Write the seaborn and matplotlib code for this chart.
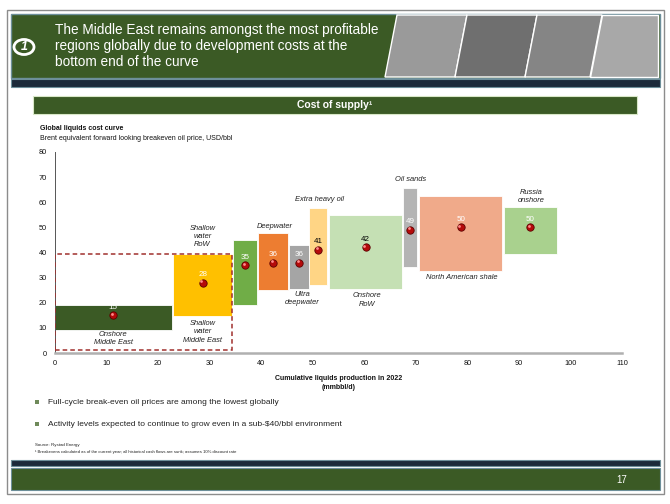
import numpy as np
import pandas as pd
import matplotlib
matplotlib.use("Agg")
import matplotlib.pyplot as plt
import matplotlib.patches as mpatches
import seaborn as sns

# cost curve boxes
segments = ["Onshore Middle East", "Shallow water Middle East", "Shallow water RoW", "Deepwater",
            "Ultra deepwater", "Extra heavy oil", "Onshore RoW", "Oil sands",
            "North American shale", "Russia onshore"]
x_start = [0, 22.9, 34.6, 39.4, 45.4, 49.3, 53.2, 67.5, 70.6, 87.1]
x_end = [22.65, 34.4, 39.2, 45.2, 49.2, 52.7, 67.3, 70.3, 86.8, 97.3]
low = [9.3, 14.6, 19.3, 24.9, 25.6, 27.2, 25.4, 34.2, 32.8, 39.6]
high = [19.0, 39.5, 44.8, 47.7, 43.0, 57.7, 55.0, 65.7, 62.5, 58.0]
breakeven = [15, 28, 35, 36, 36, 41, 42, 49, 50, 50]
colors = ["#3b5a25", "#ffc000", "#70ad47", "#ed7d31", "#a5a5a5", "#ffd585",
          "#c5e0b4", "#b4b4b4", "#f0aa8a", "#a9d18e"]
value_colors = ["white", "white", "white", "white", "white", "black", "black", "white", "white", "white"]

# italic segment labels (x, y in data units)
seg_labels = ["Onshore\nMiddle East", "Shallow\nwater\nMiddle East", "Shallow\nwater\nRoW", "Deepwater",
              "Ultra\ndeepwater", "Extra heavy oil", "Onshore\nRoW", "Oil sands",
              "North American shale", "Russia\nonshore"]
seg_label_x = [11.3, 28.7, 28.6, 42.7, 47.9, 51.4, 60.6, 69.0, 78.9, 92.3]
seg_label_y = [5.9, 8.4, 46.3, 50.3, 21.6, 61.0, 21.1, 68.9, 30.0, 62.3]

x_ticks = list(range(0, 111, 10))
y_ticks = list(range(0, 81, 10))

df = pd.DataFrame({"segment": segments, "x0": x_start, "x1": x_end, "low": low,
                   "high": high, "value": breakeven})
df["mid"] = (df["x0"] + df["x1"]) / 2

sns.set_theme(style="white")
plt.rcParams["font.family"] = ["Liberation Sans", "DejaVu Sans"]

W, H = 670, 504
fig = plt.figure(figsize=(W / 100, H / 100), dpi=100)
fig.patch.set_facecolor("white")


def px_rect(x0, y0, x1, y1, **kw):
    # rectangle given in picture pixels (top-left origin)
    fig.patches.append(mpatches.Rectangle((x0 / W, 1 - y1 / H), (x1 - x0) / W, (y1 - y0) / H,
                                          transform=fig.transFigure, figure=fig, **kw))


def px_text(x, y, s, **kw):
    fig.text(x / W, 1 - y / H, s, **kw)


# page frame
px_rect(7, 10, 664, 494, facecolor="none", edgecolor="#8c8c8c", lw=1.0)

# header banner
px_rect(11, 14, 660, 78, facecolor="#3b5a25", edgecolor="#6d8f9a", lw=1.0)
shades = ["#9a9a9a", "#6f6f6f", "#858585", "#a8a8a8"]
edges = [385, 455, 525, 590, 658]
for i, c in enumerate(shades):
    xa, xb = edges[i], edges[i + 1]
    poly = [((xa + 12) / W, 1 - 15 / H), ((xb + 12) / W if i < 3 else xb / W, 1 - 15 / H),
            (xb / W, 1 - 77 / H), (xa / W, 1 - 77 / H)]
    fig.patches.append(mpatches.Polygon(poly, closed=True, transform=fig.transFigure, figure=fig,
                                        facecolor=c, edgecolor="white", lw=1.0))
px_rect(11, 79, 660, 87, facecolor="#1c2a3a", edgecolor="#6d8f9a", lw=0.8)
fig.patches.append(mpatches.Circle((24 / W, 1 - 47 / H), 10 / W, transform=fig.transFigure, figure=fig,
                                   facecolor="#3b5a25", edgecolor="white", lw=2.0))
px_text(24, 47, "1", color="white", fontsize=9, fontstyle="italic", fontweight="bold",
        ha="center", va="center")
px_text(55, 46, "The Middle East remains amongst the most profitable\nregions globally due to development costs at the\nbottom end of the curve",
        color="white", fontsize=9.8, ha="left", va="center", linespacing=1.2)

# section band
px_rect(33, 96, 637, 114, facecolor="#3b5a25", edgecolor="#d9e8c8", lw=0.8)
px_text(335, 105, "Cost of supply¹", color="white", fontsize=7.5, fontweight="bold",
        ha="center", va="center")

px_text(40, 128, "Global liquids cost curve", fontsize=5.0, fontweight="bold", va="center", color="#111111")
px_text(40, 138, "Brent equivalent forward looking breakeven oil price, USD/bbl", fontsize=5.0,
        va="center", color="#111111")

# chart
ax = fig.add_axes([55 / W, 1 - 353 / H, (622 - 55) / W, (353 - 152) / H])
ax.set_facecolor("white")
ax.bar(df["x0"], df["high"] - df["low"], width=df["x1"] - df["x0"], bottom=df["low"],
       align="edge", color=colors, edgecolor="white", lw=0.6, zorder=2)
ax.add_patch(mpatches.Rectangle((0, 1.3), 34.4, 38.2, facecolor="none", edgecolor="#a0302e",
                                lw=1.1, ls=(0, (3, 2)), zorder=3))
sns.scatterplot(data=df, x="mid", y="value", ax=ax, color="#b50a0a", edgecolor="#5a0000",
                linewidth=0.6, s=28, zorder=4, legend=False)
ax.scatter(df["mid"] - 0.25, df["value"] + 0.6, s=4, color="#ff8a8a", lw=0, zorder=5)
for m, v, c in zip(df["mid"], df["value"], value_colors):
    ax.text(m, v + 3.2, str(v), ha="center", va="center", fontsize=5.8, color=c, zorder=5)
for s, lx, ly in zip(seg_labels, seg_label_x, seg_label_y):
    ax.text(lx, ly, s, ha="center", va="center", fontsize=5.4, fontstyle="italic",
            color="#222222", linespacing=1.25, zorder=5)

ax.set_xlim(0, 110)
ax.set_ylim(0, 80)
ax.set_xticks(x_ticks)
ax.set_yticks(y_ticks)
ax.tick_params(axis="both", labelsize=5.3, colors="#111111", length=3, width=0.6, pad=3)
ax.tick_params(axis="x", direction="inout", length=4, color="#999999")
ax.tick_params(axis="y", direction="out", color="#555555")
for side in ["top", "right"]:
    ax.spines[side].set_visible(False)
ax.spines["left"].set_color("#555555")
ax.spines["left"].set_linewidth(0.7)
ax.spines["bottom"].set_color("#b0b0b0")
ax.spines["bottom"].set_linewidth(1.8)
ax.set_xlabel("Cumulative liquids production in 2022\n(mmbbl/d)", fontsize=5.0, fontweight="bold",
              labelpad=6, color="#111111", linespacing=1.4)
ax.set_ylabel("")
ax.grid(False)

# bullets
for yy, s in [(402, "Full-cycle break-even oil prices are among the lowest globally"),
              (424, "Activity levels expected to continue to grow even in a sub-$40/bbl environment")]:
    px_rect(35, yy - 2, 39, yy + 2, facecolor="#6f8a5a", edgecolor="none")
    px_text(48, yy, s, fontsize=6.0, va="center", color="#222222")

px_text(35, 445, "Source: Rystad Energy", fontsize=3.2, va="center", color="#222222")
px_text(35, 452, "¹ Breakevens calculated as of the current year; all historical cash flows are sunk; assumes 10% discount rate",
        fontsize=3.1, va="center", color="#222222")

# footer
px_rect(11, 460, 660, 466, facecolor="#1c2a3a", edgecolor="#6d8f9a", lw=0.8)
px_rect(11, 468, 660, 490, facecolor="#3b5a25", edgecolor="#6d8f9a", lw=0.8)
px_text(622, 480, "17", color="white", fontsize=7, ha="center", va="center")

fig.savefig("out.png", dpi=100)
